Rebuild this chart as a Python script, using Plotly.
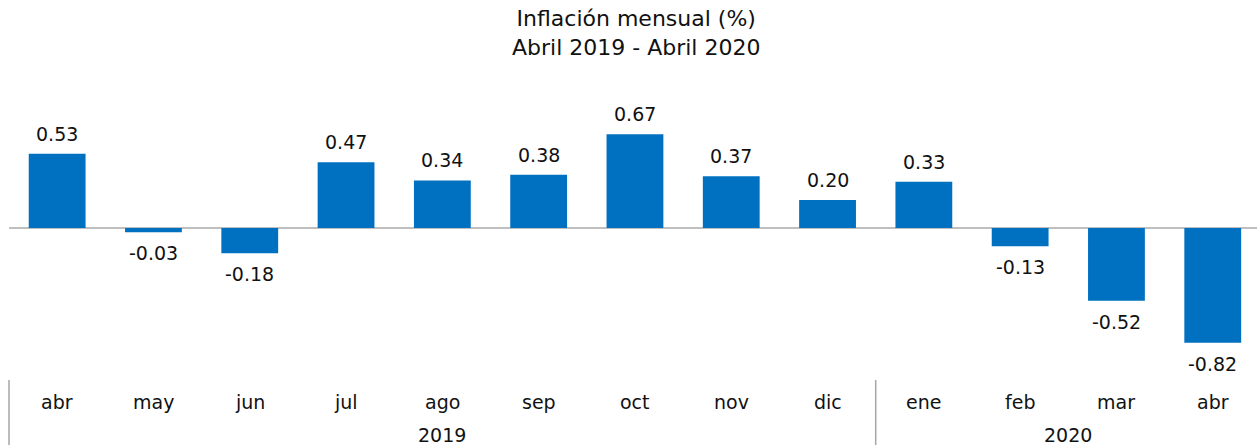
import plotly.graph_objects as go

months = ["abr", "may", "jun", "jul", "ago", "sep", "oct", "nov", "dic", "ene", "feb", "mar", "abr"]
values = [0.53, -0.03, -0.18, 0.47, 0.34, 0.38, 0.67, 0.37, 0.20, 0.33, -0.13, -0.52, -0.82]
years = ["2019", "2020"]
year_counts = [9, 4]

W, H = 1257, 445
ML, MR, MT, MB = 9, 0, 90, 65
plot_h = H - MT - MB
plot_w = W - ML - MR
cat_px = 96.3
n = len(months)
x_hi = -0.5 + plot_w / cat_px
FONT = "DejaVu Sans"
TXT = "#111111"

idx = list(range(n))
fig = go.Figure()
fig.add_trace(go.Bar(
    x=idx, y=values, width=0.59,
    marker=dict(color="#0070C0", line=dict(width=0)),
    hoverinfo="skip",
))

ann = []
for i, v in enumerate(values):
    ann.append(dict(x=i, xref="x", y=v, yref="y", text=f"{v:.2f}",
                    showarrow=False, yanchor="middle",
                    yshift=20 if v >= 0 else -21,
                    font=dict(size=19, color=TXT, family=FONT)))
for i, m in enumerate(months):
    ann.append(dict(x=i, xref="x", y=-22 / plot_h, yref="paper", text=m,
                    showarrow=False, yanchor="middle",
                    font=dict(size=19, color=TXT, family=FONT)))
start = 0
shapes = []
span = x_hi + 0.5
for yr, c in zip(years, year_counts):
    center = start + (c - 1) / 2
    ann.append(dict(x=center, xref="x", y=-55 / plot_h, yref="paper", text=yr,
                    showarrow=False, yanchor="middle",
                    font=dict(size=19, color=TXT, family=FONT)))
    xp = start / span
    shapes.append(dict(type="line", xref="paper", yref="paper", x0=xp, x1=xp,
                       y0=0, y1=-65 / plot_h, line=dict(color="#A6A6A6", width=1.5)))
    start += c

ann.append(dict(text="Inflación mensual (%)<br>Abril 2019 - Abril 2020",
                xref="paper", x=(636 - ML) / plot_w, xanchor="center",
                yref="paper", y=1 + (MT - 4) / plot_h, yanchor="top",
                showarrow=False, align="center",
                font=dict(size=22, color=TXT, family=FONT)))

fig.update_layout(
    width=W, height=H,
    margin=dict(l=ML, r=MR, t=MT, b=MB),
    plot_bgcolor="white", paper_bgcolor="white",
    showlegend=False,
    xaxis=dict(range=[-0.5, x_hi], showticklabels=False, showgrid=False,
               zeroline=False, showline=False, ticks=""),
    yaxis=dict(range=[-(H - MB - 228) / 140, (228 - MT) / 140], showticklabels=False,
               showgrid=False, showline=False, ticks="",
               zeroline=True, zerolinecolor="#BFBFBF", zerolinewidth=1.5),
    annotations=ann, shapes=shapes,
)
fig.write_html("out.html", config={"displayModeBar": False},
               post_script="document.body.style.margin='0';document.body.style.overflow='hidden';")
